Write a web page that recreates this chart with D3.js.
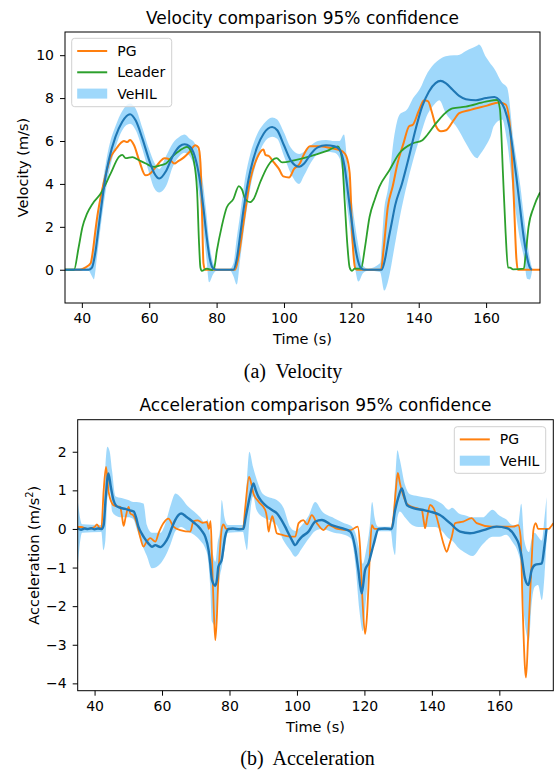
<!DOCTYPE html>
<html>
<head>
<meta charset="utf-8">
<script src="https://cdn.jsdelivr.net/npm/d3@7"></script>
<style>
  body { margin: 0; background: #fff; }
  svg { display: block; }
  .axis text { font-family: "DejaVu Sans", sans-serif; font-size: 14px; fill: #000; }
  .axis path { display: none; }
  .axis line { stroke: #000; stroke-width: 1; }
</style>
</head>
<body>
<div id="chart"></div>
<script>
// Velocity panel data (time in s, velocity in m/s)
var vehilVelT = [35, 42, 43, 44, 45, 46, 47, 48, 50, 52, 54.3, 56, 58, 60, 61.5, 63, 65, 67, 69, 70.5, 72, 73.5, 75, 76, 77, 78, 79, 80,
  85, 86, 87, 88, 89, 90, 92, 94, 96.5, 98, 100, 102, 104.5, 106, 108, 110, 112.5, 115, 116.5, 118, 119, 120, 121, 122, 123, 124,
  129, 130, 131, 132, 133, 135, 137, 139, 141, 143, 145, 146.5, 148, 150, 152, 154, 157, 160, 162.5, 164, 165.5, 167, 168, 169, 170, 171, 172, 173, 173.6];
var vehilVel = [0, 0, 0.1, 0.8, 2.0, 3.2, 4.3, 5.1, 6.2, 6.9, 7.25, 6.95, 6.1, 5.1, 4.5, 4.25, 4.6, 5.3, 5.75, 5.85, 5.75, 5.3, 4.2, 3.0, 1.6, 0.5, 0.05, 0,
  0, 0.5, 1.6, 2.8, 3.8, 4.6, 5.7, 6.35, 6.65, 6.5, 5.8, 5.1, 4.8, 4.95, 5.4, 5.7, 5.8, 5.75, 5.6, 4.8, 3.6, 2.4, 1.2, 0.4, 0.05, 0,
  0, 0.5, 1.4, 2.2, 3.0, 4.0, 5.2, 6.5, 7.6, 8.3, 8.7, 8.8, 8.7, 8.4, 8.1, 7.95, 7.9, 8.0, 8.05, 7.9, 7.5, 6.6, 5.5, 4.3, 3.0, 1.7, 0.7, 0.1, 0];

var bandVelT = [35, 42, 43, 43.6, 44.5, 46, 48, 50, 52, 54.3, 56, 58, 60, 61.5, 63, 65, 67, 69, 70.5, 72, 73.5, 75, 76, 77, 77.8, 79, 80,
  84, 85, 86, 87, 88.5, 90, 92, 94, 96.5, 98, 100, 102, 104.5, 106, 108, 110, 112.5, 115, 116.5, 117.8, 119, 120, 121, 122.1, 123.5, 125,
  128.5, 129.8, 130.8, 132.8, 134.2, 136.7, 138, 140.6, 142, 144.6, 146.1, 148, 150.5, 151.5, 154, 157.4, 157.9, 160, 161.3, 162.3,
  164.8, 166.2, 168.2, 170.2, 171.2, 172.2, 173, 173.6];
var bandVelLo = [-0.05, -0.05, -0.3, -0.45, 0.6, 2.5, 4.5, 5.7, 6.5, 6.8, 6.5, 5.6, 4.5, 3.8, 3.6, 3.9, 4.8, 5.3, 5.45, 5.3, 4.7, 3.3, 2.0, 0.5, -0.58, -0.2, -0.05,
  -0.05, -0.3, -0.69, 0.5, 2.3, 3.8, 5.1, 5.9, 6.2, 6.1, 5.3, 4.5, 4.0, 4.4, 5.0, 5.4, 5.5, 5.45, 5.2, 4.0, 2.6, 1.4, 0.2, -0.55, -0.15, -0.05,
  -0.1, -0.97, -0.6, 1.06, 2.3, 4.1, 4.9, 6.3, 7.0, 7.7, 7.9, 7.3, 6.8, 6.6, 5.9, 5.2, 5.3, 5.8, 6.2, 6.7,
  7.0, 6.0, 3.4, 1.3, 0.59, -0.42, -0.45, -0.1];
var bandVelHi = [0.05, 0.1, 0.6, 1.3, 2.4, 3.9, 5.7, 6.7, 7.4, 7.75, 7.5, 6.6, 5.6, 5.0, 4.7, 5.3, 5.9, 6.2, 6.3, 6.1, 5.9, 5.2, 4.0, 2.6, 1.3, 0.3, 0.05,
  0.05, 0.3, 1.5, 2.6, 4.3, 5.4, 6.3, 6.8, 7.1, 7.0, 6.4, 5.7, 5.4, 5.5, 5.8, 6.0, 6.05, 6.0, 6.0, 6.3, 4.6, 3.4, 2.2, 1.1, 0.2, 0.05,
  0.3, 2.9, 3.7, 6.3, 7.2, 7.5, 7.9, 8.5, 9.0, 9.6, 9.8, 9.95, 10.0, 10.0, 10.2, 10.45, 10.5, 9.9, 9.6, 9.4,
  8.7, 8.5, 6.0, 3.86, 2.5, 1.3, 0.5, 0.1];

var pgVelT = [35, 39.5, 41, 42.6, 43.3, 44, 44.6, 46, 47.5, 48.6, 50, 51.5, 52.5, 53.5, 54.3, 55.5, 57, 58.9, 60, 61.5, 63, 64.5, 66, 67.5, 68.5, 70, 72, 73.7, 74.6, 75.2, 75.7, 76.1, 76.6,
  85.5, 86.5, 88, 90, 92, 93.9, 94.5, 95.5, 97, 98.5, 99.8, 101.5, 103, 104.7, 106, 107.7, 110, 113, 116, 117.5, 118.5, 119.5, 120.3, 121.1, 121.6,
  128.8, 129.6, 130.8, 132.3, 133.7, 135.5, 137.2, 138.2, 140, 141.6, 142.8, 143.8, 145.1, 146.6, 148.1, 150.5, 152, 155.4, 160.3, 163.8, 165.8, 167.2, 168.2, 169, 169.4, 176];
var pgVel = [0, 0, 0.1, 0.3, 0.9, 1.8, 2.5, 3.7, 4.7, 5.25, 5.6, 5.9, 6.0, 5.95, 6.05, 5.8, 5.1, 4.4, 4.45, 4.7, 5.0, 5.2, 5.15, 4.95, 5.05, 5.2, 5.5, 5.8, 5.7, 5.0, 2.5, 0.3, 0,
  0, 0.6, 2.2, 4.2, 5.2, 5.6, 5.35, 5.3, 5.0, 4.7, 4.35, 4.3, 4.7, 4.95, 5.4, 5.75, 5.75, 5.7, 5.6, 5.5, 5.3, 4.5, 1.5, 0.1, 0,
  0, 1.0, 2.9, 3.9, 4.95, 5.9, 6.7, 6.75, 7.4, 7.9, 7.85, 7.4, 6.7, 6.45, 6.5, 7.0, 7.3, 7.45, 7.65, 7.8, 7.7, 6.5, 3.4, 0.5, 0, 0];

var leaderVelT = [35, 37.7, 39, 40.2, 41.5, 43.2, 45.6, 48.6, 51, 52, 53, 55, 57, 59, 61.4, 63, 65, 67, 69, 71.2, 72.3, 73.2, 74.2, 74.8, 75.2, 75.6, 77.1, 78.7,
  79.3, 80.1, 81.5, 83, 85, 86.6, 87.5, 88.5, 89.9, 91, 93, 94.9, 96.5, 97.8, 99.5, 103, 108, 113, 116, 117.2, 118, 118.8, 119.5, 120.2, 121, 122.9,
  124, 125.4, 127, 128.3, 131.3, 134.2, 138.2, 141.1, 142.1, 145.1, 149, 150, 154, 159.9, 163.3, 164.1, 165, 165.8, 166.5, 167.1, 168, 171.2, 171.8, 172.6, 174.1, 176];
var leaderVel = [0, 0, 1.0, 2.0, 2.6, 3.08, 3.55, 4.5, 5.26, 5.35, 5.2, 5.25, 5.1, 4.95, 4.79, 4.85, 4.95, 5.3, 5.55, 5.73, 5.55, 5.1, 3.7, 1.2, 0.1, -0.05, 0.05, -0.02,
  0.1, 0.9, 2.0, 2.9, 3.3, 3.9, 3.75, 3.3, 3.15, 3.3, 4.1, 4.75, 5.1, 5.2, 5.0, 5.1, 5.3, 5.55, 5.75, 5.2, 3.24, 1.2, 0.1, -0.05, 0.05, 0.05,
  1.0, 2.46, 3.3, 3.86, 4.64, 5.42, 5.89, 6.04, 6.2, 6.82, 7.44, 7.52, 7.6, 7.83, 7.91, 7.5, 4.5, 1.7, 0.1, 0.1, 0.02, 0.05, 0.8, 2.0, 2.9, 3.6];

// Acceleration panel data (time in s, acceleration in m/s^2)
var vehilAccT = [35, 36, 37, 38, 39, 40, 41, 42.2, 42.7, 43.3, 44.1, 44.8, 45.6, 46.4, 47.5, 49.1, 50.5, 51.6, 52.3, 53, 54, 54.8, 56, 57, 58, 59.5, 60.7, 61.9,
  63, 63.9, 65.7, 67, 67.9, 69.5, 70.8, 71.8, 72.8, 73.8, 74.3, 74.8, 75.8, 76.3, 76.7, 77.7, 78.2, 78.7, 79.7, 81, 83, 84.1, 84.8, 85.6, 86.3, 87.1, 87.8,
  88.6, 89.5, 90.6, 92.6, 94.1, 95.3, 96.5, 97.5, 98.5, 99.5, 100.5, 101.5, 103.4, 105.4, 107.4, 110.3, 113.3, 115.8, 117.2, 118.2, 119.2, 120.2, 121.2,
  122.7, 124.2, 126, 128.1, 129.1, 130.1, 131.1, 131.8, 132.6, 134.5, 137.5, 139.5, 142.4, 145.4, 148.4, 151.3, 155.3, 159.2, 162.2, 164.7, 165.8, 166.6,
  167.6, 168.6, 169.6, 170.6, 172.6, 173.3, 174];
var vehilAcc = [0.02, -0.02, 0.01, 0, 0.02, -0.01, 0.01, 0, 0.1, 0.8, 1.44, 1.1, 0.75, 0.6, 0.55, 0.52, 0.48, 0.45, 0.3, 0.06, -0.12, -0.24, -0.38, -0.46, -0.42, -0.47, -0.38, -0.2,
  0.05, 0.23, 0.4, 0.33, 0.27, 0.16, 0.06, -0.05, -0.2, -0.55, -0.9, -1.32, -1.47, -1.3, -0.98, -0.8, -0.5, -0.2, 0, 0.01, -0.01, 0, 0.3, 0.66, 0.95, 1.18, 1.0,
  0.83, 0.72, 0.62, 0.49, 0.4, 0.25, 0.06, -0.12, -0.29, -0.42, -0.3, -0.2, -0.07, 0.19, 0.23, 0.1, 0.02, -0.07, -0.46, -1.06, -1.67, -1.06, -0.89,
  -0.41, 0, 0.01, 0, 0.49, 0.83, 1.05, 0.85, 0.62, 0.54, 0.49, 0.45, 0.36, 0.15, -0.07, -0.11, -0.03, 0.06, 0.02, -0.2, -0.4, -0.72,
  -1.28, -1.45, -1.06, -0.93, -0.89, -0.5, 0.0];

var bandAccT = [35, 35.5, 36.3, 42, 42.6, 43.2, 43.8, 44.5, 45.2, 46.2, 48, 50, 51.5, 52.5, 54.5, 55.5, 57, 59.5, 61, 62.5, 64, 65.7, 67.5, 69.5, 71.3, 72.8, 73.5,
  74.3, 74.8, 75.8, 76.5, 77.2, 77.7, 78.5, 79.5, 84, 84.6, 85.2, 85.9, 87, 88, 90, 92.5, 94, 96, 98, 99.5, 101.5, 103.5, 105.4, 107.5, 111, 114, 116,
  117.3, 118.5, 119.5, 120.5, 121.5, 122.3, 123, 124, 127.8, 128.5, 129.1, 129.8, 130.5, 132, 133.5, 136, 139, 141, 143, 145, 146, 148, 150, 152, 155,
  158, 160, 162, 164, 165.5, 166.5, 167.4, 168.8, 169.5, 170.5, 171.5, 172.6, 173.4, 174];
var bandAccLo = [-1.0, -0.5, -0.1, -0.08, -0.55, -0.3, 0.8, 1.0, 0.45, 0.35, 0.3, 0.3, 0.25, 0.0, -0.5, -0.7, -1.02, -0.9, -0.7, -0.4, -0.05, 0.05, -0.05, -0.15, -0.3, -0.5, -0.7,
  -1.5, -2.4, -2.5, -1.8, -1.2, -1.0, -0.55, -0.1, -0.08, -0.35, -0.55, 0.2, 0.85, 0.5, 0.3, 0.2, 0.1, -0.3, -0.55, -0.72, -0.5, -0.25, -0.05, 0.0, -0.1, -0.15, -0.25,
  -0.9, -2.1, -2.65, -1.8, -0.9, -0.5, -0.3, -0.06, -0.06, -0.5, -0.68, 0.3, 0.45, 0.3, 0.15, 0.05, 0.05, 0.05, -0.05, -0.25, -0.3, -0.5, -0.62, -0.7, -0.4,
  -0.2, -0.2, -0.15, -0.35, -0.6, -1.0, -2.3, -2.9, -2.0, -1.5, -1.45, -1.84, -1.2, -0.3];
var bandAccHi = [0.75, 0.4, 0.12, 0.1, 0.3, 1.6, 2.13, 2.0, 1.5, 0.85, 0.8, 0.75, 0.7, 0.7, 0.66, 0.1, -0.1, -0.1, 0.15, 0.6, 0.92, 0.8, 0.6, 0.45, 0.3, 0.15, 0.25,
  -0.2, -0.5, -0.85, -0.35, 0.0, 0.75, 0.3, 0.1, 0.1, 0.4, 1.3, 2.0, 1.6, 1.3, 0.9, 0.8, 0.75, 0.55, 0.05, -0.05, 0.1, 0.35, 0.7, 0.45, 0.28, 0.15, 0.08,
  -0.1, -0.55, -0.9, -0.55, 0.0, 0.7, 0.3, 0.06, 0.06, 0.3, 1.2, 2.04, 1.8, 1.15, 0.9, 0.85, 0.8, 0.75, 0.65, 0.5, 0.55, 0.4, 0.35, 0.3, 0.3,
  0.5, 0.35, 0.25, 0.1, 0.1, 0.65, -0.3, -0.6, -0.3, -0.1, -0.2, -0.3, 0.3, 0.83];

var pgAccT = [35, 36, 38, 40, 40.7, 41.5, 42, 42.7, 43.4, 44.1, 45.2, 45.9, 47.6, 48.1, 48.6, 49.2, 50.1, 50.6, 51.5, 52.5, 53.5, 54.5, 55.3, 56.5, 58, 59, 60.4, 61.9,
  63.4, 65.4, 68.4, 69.3, 70.5, 72, 73.3, 73.9, 74.4, 74.8, 75.3, 75.8, 76.3, 76.7, 77.2, 77.7, 78.2, 79, 84, 84.7, 85.8, 86.4, 87.1, 88.6, 90.6, 91.1, 91.6,
  92.1, 92.7, 93.3, 94, 95.5, 98.5, 99.5, 100.5, 101.9, 103, 104.4, 105.9, 107.9, 109.4, 112, 115.8, 118, 118.7, 119.4, 120.2, 120.8, 121.2, 121.7, 122.2, 123,
  128, 128.6, 129.3, 129.9, 130.5, 131.6, 133, 135.5, 137, 137.6, 138, 138.6, 139.5, 140.5, 141.9, 143.4, 144.4, 145.2, 145.9, 146.9, 149.3, 151.8, 153.3,
  157.7, 164.1, 165.6, 166.3, 166.9, 167.6, 167.9, 168.5, 169.1, 169.6, 170.1, 170.8, 171.5, 174.6, 175.2, 176];
var pgAcc = [0.05, 0.05, 0, 0.05, 0.12, 0.02, 0, 1.0, 1.61, 1.0, 0.66, 0.6, 0.57, 0.35, 0.08, 0.3, 0.57, 0.4, 0.35, 0.15, -0.2, -0.46, -0.35, -0.24, -0.33, -0.1, 0.15, 0.27,
  0.06, -0.03, -0.07, 0.2, 0.22, 0.16, 0.18, 0.0, 0.2, -0.72, -2.0, -2.88, -2.2, -1.24, -0.5, 0.0, 0.12, 0, 0, 0.58, 1.35, 1.2, 0.92, 0.71, 0.49, 0.3, -0.07,
  0.15, 0.33, 0.15, -0.11, -0.15, -0.2, -0.2, 0.15, 0.23, 0.12, 0.36, 0.15, -0.03, 0.1, 0.0, -0.03, 0.06, -0.46, -1.8, -2.72, -2.2, -1.5, -0.5, 0.1, 0,
  0, 0.3, 1.0, 1.45, 1.2, 0.84, 0.62, 0.54, 0.49, 0.2, 0.02, 0.3, 0.62, 0.54, 0.15, -0.37, -0.59, -0.4, -0.2, 0.15, 0.19, 0.28, 0.15,
  0.06, 0.06, 0.1, -0.2, -2.0, -3.6, -3.85, -2.9, -1.75, -0.8, -0.03, 0.15, 0.0, 0.0, 0.05, 0.15];

var timeTicks = [40, 60, 80, 100, 120, 140, 160];
var velTicks = [0, 2, 4, 6, 8, 10];
var accTicks = [-4, -3, -2, -1, 0, 1, 2];

var colors = { pg: '#ff7f0e', leader: '#2ca02c', mean: '#1f77b4', band: '#87cefa' };

function zip(t, v) {
  return t.map(function(d, i) { return [d, v[i]]; });
}

var svg = d3.select('#chart')
      .append('svg')
      .attr('width', 558)
      .attr('height', 771);

function drawPanel(p) {
  var x = d3.scaleLinear().domain([35, 176]).range([p.left, p.right]);
  var y = d3.scaleLinear().domain(p.yDomain).range([p.bottom, p.top]);

  var g = svg.append('g');

  g.append('clipPath').attr('id', p.id + '-clip')
    .append('rect')
    .attr('x', p.left).attr('y', p.top)
    .attr('width', p.right - p.left).attr('height', p.bottom - p.top);

  var plot = g.append('g').attr('clip-path', 'url(#' + p.id + '-clip)');

  // confidence band
  var band = p.bandT.map(function(t, i) { return { t: t, lo: p.bandLo[i], hi: p.bandHi[i] }; });
  plot.append('path')
    .datum(band)
    .attr('fill', colors.band)
    .attr('fill-opacity', 0.8)
    .attr('d', d3.area()
          .x(function(d) { return x(d.t); })
          .y0(function(d) { return y(d.lo); })
          .y1(function(d) { return y(d.hi); })
          .curve(d3.curveMonotoneX));

  var line = d3.line()
        .x(function(d) { return x(d[0]); })
        .y(function(d) { return y(d[1]); })
        .curve(d3.curveMonotoneX);

  p.lines.forEach(function(l) {
    plot.append('path')
      .datum(zip(l.t, l.v))
      .attr('fill', 'none')
      .attr('stroke', l.color)
      .attr('stroke-width', l.width)
      .attr('stroke-linejoin', 'round')
      .attr('d', line);
  });

  // axes
  g.append('g')
    .attr('class', 'axis')
    .attr('transform', 'translate(0,' + p.bottom + ')')
    .call(d3.axisBottom(x).tickValues(timeTicks).tickSize(5).tickPadding(5));

  g.append('g')
    .attr('class', 'axis')
    .attr('transform', 'translate(' + p.left + ',0)')
    .call(d3.axisLeft(y).tickValues(p.yTicks).tickSize(5).tickPadding(6)
          .tickFormat(function(d) { return d < 0 ? '\u2212' + Math.abs(d) : d; }));

  g.append('rect')
    .attr('x', p.left).attr('y', p.top)
    .attr('width', p.right - p.left).attr('height', p.bottom - p.top)
    .attr('fill', 'none').attr('stroke', '#000').attr('stroke-width', 1);

  var cx = (p.left + p.right) / 2;
  g.append('text')
    .attr('x', cx).attr('y', p.top - 8.3)
    .attr('text-anchor', 'middle')
    .style('font', '17px "DejaVu Sans", sans-serif')
    .text(p.title);

  g.append('text')
    .attr('x', cx).attr('y', p.bottom + 41)
    .attr('text-anchor', 'middle')
    .style('font', '14.5px "DejaVu Sans", sans-serif')
    .text('Time (s)');

  var yl = g.append('text')
        .attr('transform', 'translate(' + p.yLabelX + ',' + ((p.top + p.bottom) / 2) + ') rotate(-90)')
        .attr('text-anchor', 'middle')
        .style('font', '14.5px "DejaVu Sans", sans-serif');
  yl.append('tspan').text(p.yLabel);
  if (p.yLabelSup) {
    yl.append('tspan').attr('dy', -5.5).style('font-size', '10px').text(p.yLabelSup);
    yl.append('tspan').attr('dy', 5.5).text(')');
  }

  g.append('text')
    .attr('x', p.captionX).attr('y', p.captionY)
    .attr('text-anchor', 'middle')
    .style('font', '20px "Liberation Serif", "Times New Roman", serif')
    .attr('xml:space', 'preserve')
    .text(p.caption);

  // legend
  var lg = g.append('g');
  lg.append('rect')
    .attr('x', p.legend.x).attr('y', p.legend.y)
    .attr('width', p.legend.w).attr('height', p.legend.h)
    .attr('rx', 3)
    .attr('fill', '#fff').attr('fill-opacity', 0.8)
    .attr('stroke', '#d0d0d0').attr('stroke-width', 1);
  p.legend.items.forEach(function(it, i) {
    var cy = p.legend.y + 12.7 + i * 21.3;
    var lx = p.legend.x + 5.5;
    if (it.patch) {
      lg.append('rect')
        .attr('x', lx).attr('y', cy - 5)
        .attr('width', 30).attr('height', 10)
        .attr('fill', colors.band).attr('fill-opacity', 0.8);
    } else {
      lg.append('line')
        .attr('x1', lx).attr('x2', lx + 30)
        .attr('y1', cy).attr('y2', cy)
        .attr('stroke', it.color).attr('stroke-width', 2);
    }
    lg.append('text')
      .attr('x', lx + 40).attr('y', cy + 5)
      .style('font', '14px "DejaVu Sans", sans-serif')
      .text(it.label);
  });
}

drawPanel({
  id: 'vel', left: 65, right: 540, top: 32, bottom: 303,
  yDomain: [-1.55, 11.08], yTicks: velTicks,
  title: 'Velocity comparison 95% confidence',
  yLabel: 'Velocity (m/s)', yLabelX: 27.5,
  caption: '(a)  Velocity', captionX: 293, captionY: 378,
  bandT: bandVelT, bandLo: bandVelLo, bandHi: bandVelHi,
  lines: [
    { t: pgVelT, v: pgVel, color: colors.pg, width: 2 },
    { t: leaderVelT, v: leaderVel, color: colors.leader, width: 1.8 },
    { t: vehilVelT, v: vehilVel, color: colors.mean, width: 2.1 }
  ],
  legend: { x: 71.7, y: 38.3, w: 100, h: 68.4, items: [
    { label: 'PG', color: colors.pg },
    { label: 'Leader', color: colors.leader },
    { label: 'VeHIL', patch: true }
  ] }
});

drawPanel({
  id: 'acc', left: 77.7, right: 553.3, top: 419.7, bottom: 690.7,
  yDomain: [-4.19, 2.83], yTicks: accTicks,
  title: 'Acceleration comparison 95% confidence',
  yLabel: 'Acceleration (m/s', yLabelSup: '2', yLabelX: 38.5,
  caption: '(b)  Acceleration', captionX: 307.5, captionY: 765,
  bandT: bandAccT, bandLo: bandAccLo, bandHi: bandAccHi,
  lines: [
    { t: pgAccT, v: pgAcc, color: colors.pg, width: 1.8 },
    { t: vehilAccT, v: vehilAcc, color: colors.mean, width: 2.4 }
  ],
  legend: { x: 454.3, y: 426.7, w: 91.4, h: 46.6, items: [
    { label: 'PG', color: colors.pg },
    { label: 'VeHIL', patch: true }
  ] }
});
</script>
</body>
</html>
